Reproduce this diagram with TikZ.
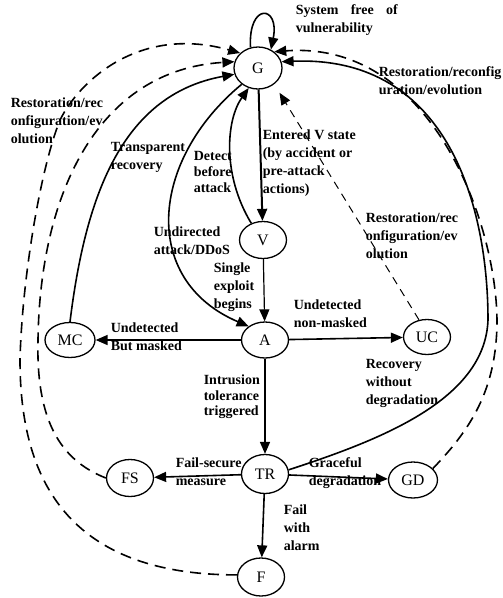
\documentclass[tikz,border=0pt]{standalone}
\usepackage{fontspec}
\setmainfont{Liberation Serif}
\usetikzlibrary{shapes.geometric,arrows.meta}

\begin{document}
\begin{tikzpicture}[x=1pt,y=-1pt, line width=1.6pt,
    state/.style={ellipse, draw, line width=1.3pt, minimum width=47pt, minimum height=37pt, inner sep=1pt, font=\fontsize{16}{16}\selectfont},
    txt/.style={font=\bfseries\fontsize{14}{18}\selectfont, align=left, anchor=north west, inner sep=0pt},
    arr/.style={-{Triangle[length=12pt,width=10pt]}},
    back/.style={arr, dash pattern=on 11pt off 7pt},
    uclink/.style={arr, line width=1pt, dash pattern=on 8pt off 6pt}]{
    \useasboundingbox (0,0) rectangle (503,598);

    \node [state, minimum width=48pt, minimum height=42pt] (G) at (258,68) {G};
    \node [state] (V) at (263,240) {V};
    \node [state, minimum height=36pt] (A) at (265,340) {A};
    \node [state, minimum width=50pt, minimum height=35pt] (MC) at (70,340) {MC};
    \node [state, minimum height=35pt] (UC) at (427,337) {UC};
    \node [state, minimum height=39pt] (TR) at (265,474) {TR};
    \node [state] (FS) at (130,478) {FS};
    \node [state, minimum width=49pt, minimum height=36pt] (GD) at (413,480) {GD};
    \node [state, minimum height=38pt] (F) at (261,577) {F};

    \draw [arr] (G.110) .. controls (248,2) and (280,5) .. (G.55);
    \draw [arr, line width=2pt] (G) -- (V);
    \draw [arr, line width=1.2pt] (V) -- (A);
    \draw [arr] (A) -- (MC);
    \draw [arr] (A) -- (UC);
    \draw [arr] (A) -- (TR);
    \draw [arr] (TR) -- (FS);
    \draw [arr] (TR) -- (GD);
    \draw [arr] (TR) -- (F);

    \draw [arr] (V.125) .. controls (222,175) and (226,120) .. (G.245);
    \draw [arr] (G.225) .. controls (150,160) and (140,280) .. (A.140);
    \draw [arr] (MC.north) .. controls (85,200) and (120,95) .. (G.195);
    \draw [arr] (TR.10) .. controls (380,440) and (485,400) .. (488,320) .. controls (488,210) and (450,55) .. (G.15);
    \draw [back] (GD.30) .. controls (470,430) and (497,390) .. (497,320) .. controls (496,220) and (430,40) .. (G.45);
    \draw [back] (FS.west) .. controls (60,460) and (36,420) .. (38,340) .. controls (40,190) and (100,70) .. (G.165);
    \draw [back] (F.175) .. controls (60,575) and (20,470) .. (20,360) .. controls (22,280) and (40,170) .. (60,120) .. controls (80,80) and (140,25) .. (G.140);
    \draw [uclink, shorten >=10pt] (UC.115) -- (G.-45);

    \node [txt, text width=102pt, align=justify] (lSys) at (295,4) {System free of vulnerability};
    \node [txt] (lRecL) at (10,97) {Restoration/rec\\onfiguration/ev\\olution};
    \node [txt] (lTrans) at (110,142) {Transparent\\recovery};
    \node [txt, font=\bfseries\fontsize{14}{16}\selectfont] (lDet) at (193,151) {Detect\\before\\attack};
    \node [txt] (lRecR) at (378,66) {Restoration/reconfig\\uration/evolution};
    \node [txt] (lEnt) at (262,129) {Entered V state\\(by accident or\\pre-attack\\actions)};
    \node [txt] (lUnd) at (153,226) {Undirected\\attack/DDoS};
    \node [txt] (lSing) at (213,262) {Single\\exploit\\begins};
    \node [txt] (lRecU) at (365,212) {Restoration/rec\\onfiguration/ev\\olution};
    \node [txt] (lMask) at (110,322) {Undetected\\But masked};
    \node [txt] (lNon) at (293,299) {Undetected\\non-masked};
    \node [txt] (lRecov) at (365,359) {Recovery\\without\\degradation};
    \node [txt, font=\bfseries\fontsize{14}{15.5}\selectfont] (lIntr) at (203,374) {Intrusion\\tolerance\\triggered};
    \node [txt] (lFS) at (175,457) {Fail-secure\\measure};
    \node [txt] (lGrace) at (308,457) {Graceful\\degradation};
    \node [txt] (lFail) at (283,504) {Fail\\with\\alarm};
    }
\end{tikzpicture}
\end{document}
